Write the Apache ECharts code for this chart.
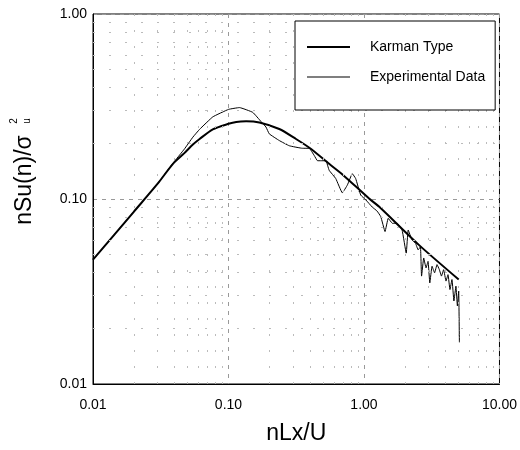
<!DOCTYPE html>
<html>
<head>
<meta charset="utf-8">
<script src="https://cdn.jsdelivr.net/npm/echarts@6/dist/echarts.min.js"></script>
<style>
  html, body { margin: 0; padding: 0; background: #fff; }
  #chart { width: 520px; height: 450px; }
</style>
</head>
<body>
<div id="chart"></div>
<script>
// 数据
var karmanX = [0.01, 0.02, 0.03, 0.0389, 0.0472, 0.0546, 0.0612, 0.0766, 0.1, 0.114, 0.135, 0.169, 0.237, 0.315, 0.4, 0.553, 0.7, 1.09, 1.29, 2.54, 5.0];
var karmanY = [0.047, 0.0853, 0.121, 0.155, 0.177, 0.197, 0.211, 0.238, 0.255, 0.261, 0.263, 0.259, 0.239, 0.211, 0.188, 0.155, 0.135, 0.1006, 0.091, 0.0565, 0.0367];

var expX = [0.01, 0.02, 0.03, 0.0389, 0.0472, 0.0546, 0.0612, 0.0766, 0.1, 0.1205, 0.151, 0.174, 0.189, 0.2, 0.237, 0.281, 0.352, 0.394,
    0.429, 0.454, 0.523, 0.553, 0.619, 0.692, 0.754, 0.82, 0.868, 0.946, 1.03, 1.15, 1.25, 1.33, 1.43, 1.51, 1.62,
    1.76, 1.91, 2.05, 2.12, 2.26, 2.40, 2.51, 2.61, 2.66, 2.76, 2.87, 2.97, 3.06, 3.18, 3.32, 3.46, 3.6, 3.73,
    3.87, 4.03, 4.17, 4.31, 4.46, 4.61, 4.77, 4.89, 5.0, 5.06];
var expY = [0.047, 0.0853, 0.121, 0.156, 0.186, 0.216, 0.238, 0.278, 0.305, 0.312, 0.294, 0.262, 0.245, 0.225, 0.207, 0.194, 0.188, 0.188,
    0.172, 0.161, 0.161, 0.143, 0.129, 0.108, 0.119, 0.137, 0.129, 0.105, 0.099, 0.0905, 0.086, 0.0803, 0.0667, 0.0786, 0.0739,
    0.0739, 0.068, 0.051, 0.068, 0.0601, 0.0577, 0.0531, 0.0552, 0.0383, 0.048, 0.0424, 0.046, 0.0352, 0.0433, 0.0399, 0.0442, 0.0415, 0.0383,
    0.0415, 0.036, 0.039, 0.0324, 0.0367, 0.0281, 0.0338, 0.0264, 0.0318, 0.0168];

// minor grid positions
var minorX = [0.02, 0.03, 0.04, 0.05, 0.06, 0.07, 0.08, 0.09, 0.2, 0.3, 0.4, 0.5, 0.6, 0.7, 0.8, 0.9, 2, 3, 4, 5, 6, 7, 8, 9];
var minorY = [0.02, 0.03, 0.04, 0.05, 0.06, 0.07, 0.08, 0.09, 0.2, 0.3, 0.4, 0.5, 0.6, 0.7, 0.8, 0.9];

function pairs(xs, ys) {
    var out = [];
    for (var i = 0; i < xs.length; i++) out.push([xs[i], ys[i]]);
    return out;
}

var fontName = '"Liberation Sans Narrow", "Liberation Sans", Arial, sans-serif';

var gridLines = [];
minorX.forEach(function (v) { gridLines.push({ xAxis: v }); });
minorY.forEach(function (v) { gridLines.push({ yAxis: v }); });

var chart = echarts.init(document.getElementById('chart'));
var option = {
    backgroundColor: '#fff',
    animation: false,
    textStyle: { fontFamily: fontName },
    grid: { left: 93, right: 19, top: 14, bottom: 63, show: true, borderColor: '#000', borderWidth: 1 },
    legend: {
        z: 20,
        orient: 'vertical',
        left: 295,
        top: 21,
        padding: [19, 10, 26, 12],
        itemGap: 16,
        itemWidth: 43,
        itemHeight: 14,
        backgroundColor: '#fff',
        borderColor: '#000',
        borderWidth: 1,
        borderRadius: 0,
        textStyle: { fontFamily: fontName, fontSize: 14, color: '#000', padding: [0, 0, 0, 15] },
        data: [
            { name: 'Karman Type', icon: 'rect', itemStyle: { color: '#000', borderWidth: 0 } },
            { name: 'Experimental Data', icon: 'path://M0,0L43,0L43,1L0,1Z', itemStyle: { color: '#000', borderWidth: 0 } }
        ],
        itemHeight: 2
    },
    xAxis: {
        type: 'log',
        logBase: 10,
        min: 0.01,
        max: 10,
        name: 'nLx/U',
        nameLocation: 'middle',
        nameGap: 38,
        nameTextStyle: { fontFamily: fontName, fontSize: 23, color: '#000' },
        axisLine: { lineStyle: { color: '#000' } },
        axisTick: { show: false },
        axisLabel: {
            color: '#000', fontSize: 14, margin: 14, fontFamily: fontName,
            formatter: function (v) { return v.toFixed(2); }
        },
        splitLine: { show: true, lineStyle: { color: '#999', type: [4, 5], width: 1 } }
    },
    yAxis: {
        type: 'log',
        logBase: 10,
        min: 0.01,
        max: 1,
        axisLine: { lineStyle: { color: '#000' } },
        axisTick: { show: false },
        axisLabel: {
            color: '#000', fontSize: 14, margin: 6, fontFamily: fontName,
            formatter: function (v) { return v.toFixed(2); }
        },
        splitLine: { show: true, lineStyle: { color: '#999', type: [4, 5], width: 1 } }
    },
    graphic: [
        { type: 'text', x: 25, y: 180, rotation: Math.PI / 2,
          style: { text: 'nSu(n)/σ', font: '23px ' + fontName, fill: '#000', align: 'center', verticalAlign: 'middle' } },
        { type: 'text', x: 14, y: 121, rotation: Math.PI / 2,
          style: { text: '2', font: '10px ' + fontName, fill: '#000', align: 'center', verticalAlign: 'middle' } },
        { type: 'text', x: 27, y: 121, rotation: Math.PI / 2,
          style: { text: 'u', font: '10px ' + fontName, fill: '#000', align: 'center', verticalAlign: 'middle' } }
    ],
    series: [
        {
            name: 'Karman Type',
            type: 'line',
            data: pairs(karmanX, karmanY),
            smooth: 0.25,
            symbol: 'none',
            lineStyle: { color: '#000', width: 2, type: 'solid' },
            itemStyle: { color: '#000' }
        },
        {
            name: 'Experimental Data',
            type: 'line',
            data: pairs(expX, expY),
            smooth: 0.1,
            symbol: 'none',
            lineStyle: { color: '#000', width: 1, type: 'solid' },
            itemStyle: { color: '#000' }
        },
        {
            name: 'grid',
            type: 'line',
            data: [],
            silent: true,
            z: 1,
            markLine: {
                silent: true,
                symbol: 'none',
                label: { show: false },
                lineStyle: { color: '#bbb', type: [2, 14], width: 1 },
                data: gridLines
            }
        }
    ]
};
chart.setOption(option);
</script>
</body>
</html>
